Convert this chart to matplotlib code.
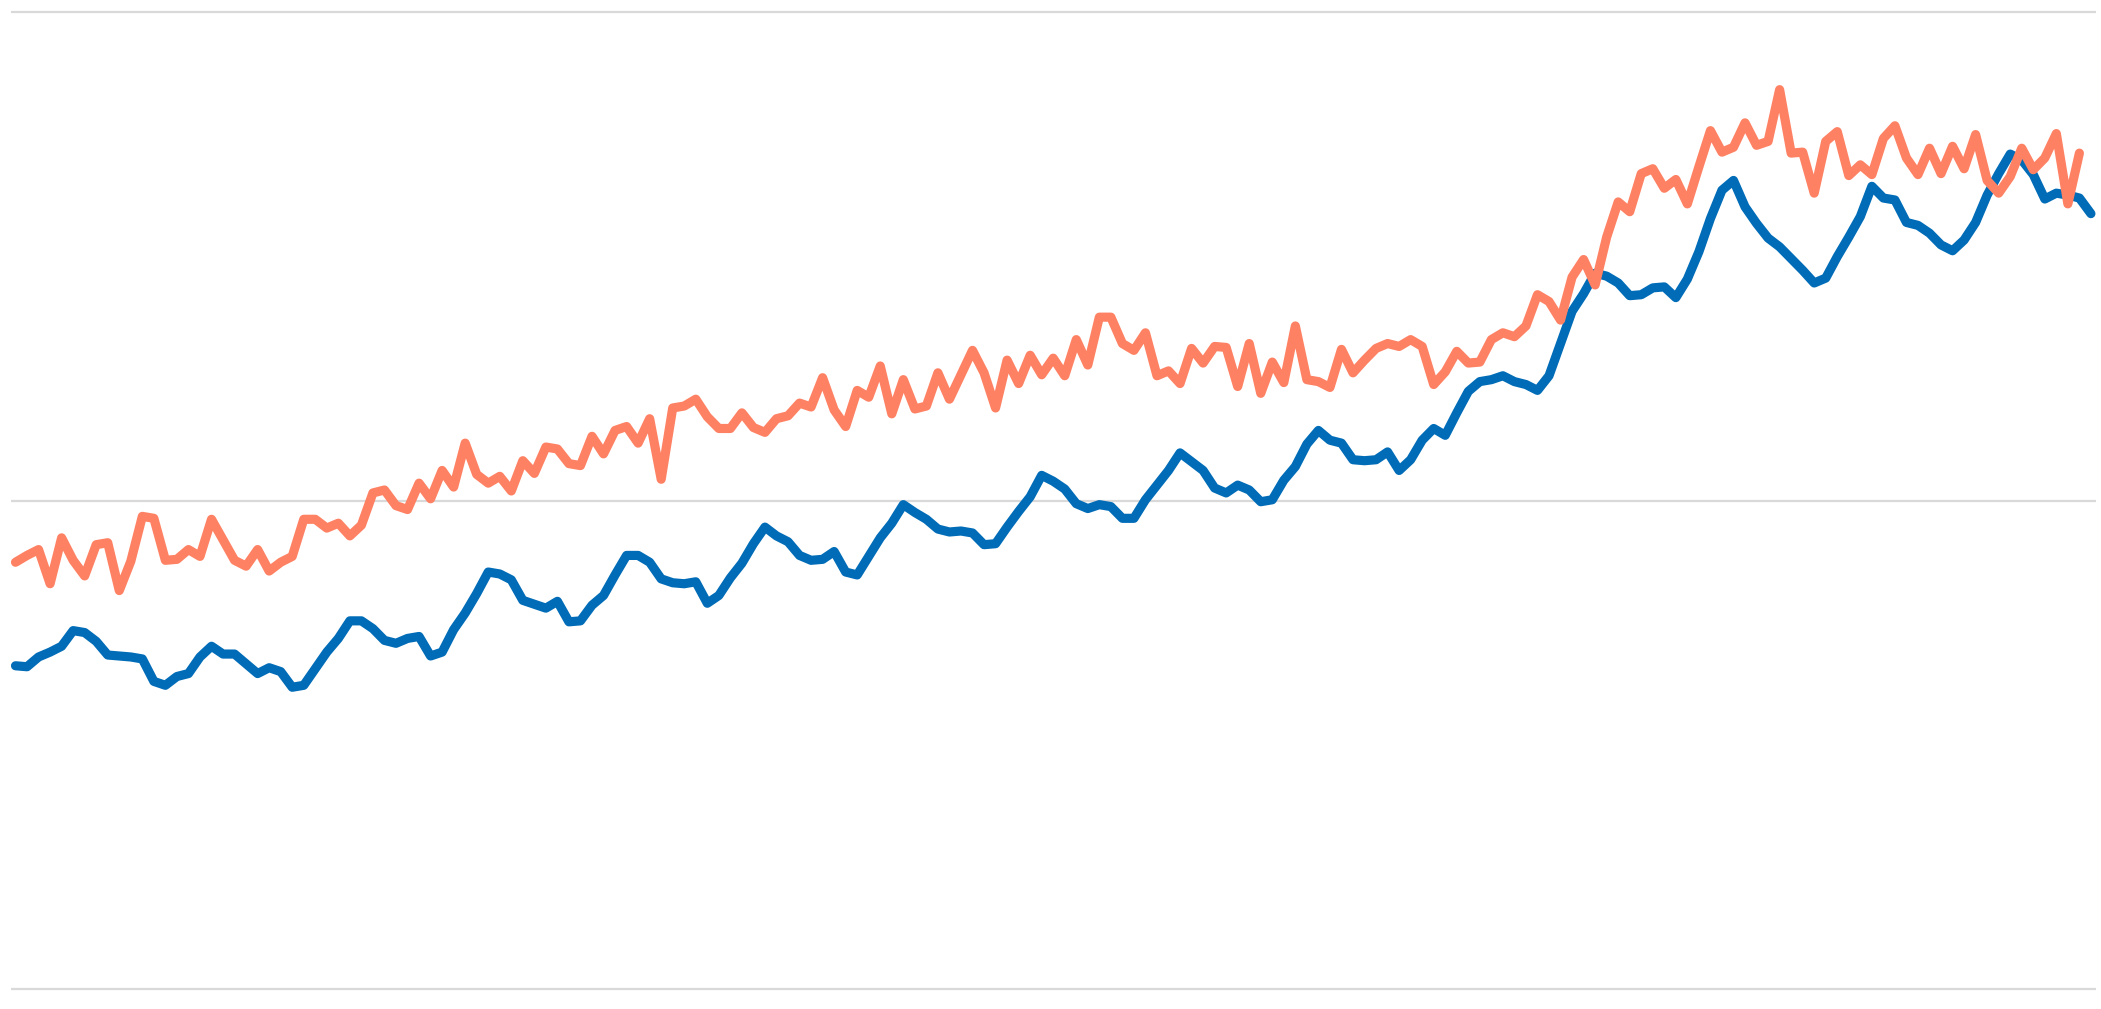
import numpy as np
import matplotlib.pyplot as plt

# values (bottom grid = 0, middle = 50, top = 100)
blue_values = [
    33.1, 33.0, 34.0, 34.5, 35.1, 36.7, 36.5, 35.6, 34.2, 34.1, 34.0, 33.8, 31.5, 31.1, 32.0,
    32.3, 34.0, 35.1, 34.3, 34.3, 33.3, 32.3, 32.9, 32.5, 30.9, 31.1, 32.8, 34.5, 35.9, 37.7,
    37.7, 36.9, 35.7, 35.4, 35.9, 36.1, 34.1, 34.5, 36.8, 38.5, 40.5, 42.7, 42.5, 41.9, 39.8,
    39.4, 39.0, 39.7, 37.6, 37.7, 39.3, 40.3, 42.4, 44.4, 44.4, 43.7, 42.0, 41.6, 41.5, 41.7,
    39.5,
    40.3, 42.1, 43.6, 45.6, 47.3, 46.4, 45.8, 44.4, 43.9, 44.0, 44.8, 42.7, 42.4, 44.3, 46.2,
    47.7, 49.6, 48.8, 48.1, 47.1, 46.8, 46.9, 46.7, 45.5, 45.6, 47.3, 48.9, 50.4, 52.6, 52.0,
    51.2, 49.7, 49.2, 49.6, 49.4, 48.2, 48.2, 50.1, 51.6, 53.1, 54.9, 54.0, 53.1, 51.3, 50.8,
    51.6, 51.1, 49.9, 50.1, 52.1, 53.5, 55.8, 57.2, 56.2, 55.9, 54.2, 54.1, 54.2, 55.0, 53.1,
    54.2, 56.2, 57.4, 56.7, 59.0, 61.2, 62.2, 62.4, 62.8, 62.2, 61.9, 61.3, 62.8, 66.1, 69.4,
    71.2, 73.3, 73.0, 72.3, 71.0, 71.1, 71.8, 71.9, 70.8, 72.7, 75.5, 78.9, 81.8, 82.8, 80.1,
    78.4, 76.9, 76.0, 74.8, 73.6, 72.3, 72.8, 75.0, 77.0, 79.1, 82.2, 81.0, 80.8, 78.5, 78.2,
    77.4, 76.2, 75.6, 76.7, 78.5, 81.3, 83.5, 85.5, 84.9, 83.4, 80.9, 81.5, 81.3, 81.0, 79.4,
]

orange_values = [
    43.7, 44.4, 45.0, 41.5, 46.2, 43.9, 42.3, 45.5, 45.7, 40.8, 43.8, 48.4, 48.2, 43.9, 44.0,
    45.0, 44.3, 48.1, 46.0, 43.9, 43.3, 45.0, 42.8, 43.7, 44.3, 48.1, 48.1, 47.2, 47.7, 46.4,
    47.5, 50.8, 51.1, 49.5, 49.1, 51.8, 50.2, 53.1, 51.4, 55.9, 52.7, 51.8, 52.5, 51.0, 54.1,
    52.8, 55.5, 55.3, 53.8, 53.6, 56.6, 54.8, 57.2, 57.6, 55.9, 58.4, 52.2, 59.5, 59.7, 60.4,
    58.6,
    57.4, 57.4, 59.0, 57.5, 57.0, 58.4, 58.7, 60.0, 59.6, 62.6, 59.3, 57.6, 61.3, 60.6, 63.8,
    58.9, 62.4, 59.4, 59.7, 63.1, 60.4, 62.9, 65.4, 63.1, 59.5, 64.4, 62.0, 64.9, 62.9, 64.6,
    62.8, 66.5, 63.9, 68.8, 68.8, 66.1, 65.4, 67.2, 62.8, 63.3, 62.0, 65.6, 64.1, 65.8, 65.7,
    61.7, 66.1, 61.0, 64.2, 62.1, 67.9, 62.4, 62.2, 61.6, 65.5, 63.1, 64.4, 65.6, 66.1, 65.8,
    66.5, 65.8, 61.9, 63.2, 65.3, 64.1, 64.2, 66.5, 67.2, 66.8, 67.9, 71.1, 70.4, 68.5, 72.9,
    74.7, 72.1, 77.0, 80.6, 79.6, 83.5, 84.0, 82.0, 82.9, 80.4, 84.2, 87.9, 85.7, 86.2, 88.7,
    86.4, 86.8, 92.1, 85.6, 85.7, 81.5, 86.8, 87.8, 83.3, 84.4, 83.4, 87.1, 88.4, 85.1, 83.4,
    86.1, 83.5, 86.3, 84.0, 87.5, 82.8, 81.5, 83.2, 86.1, 83.9, 85.1, 87.6, 80.4, 85.6,
]

grid_ticks = [0, 50, 100]

blue_color = '#006cb7'
orange_color = '#ff8163'


def main():
    fig = plt.figure(figsize=(21.01, 10.09), dpi=100)
    ax = fig.add_axes([11 / 2101, 0, 2085 / 2101, 1])

    x_blue = np.arange(len(blue_values))
    x_orange = np.arange(len(orange_values))

    ax.plot(x_blue, blue_values, color=blue_color, linewidth=6.6,
            solid_capstyle='round', solid_joinstyle='round', zorder=3)
    ax.plot(x_orange, orange_values, color=orange_color, linewidth=6.6,
            solid_capstyle='round', solid_joinstyle='round', zorder=4)

    ax.set_xlim(-0.39, 180.44)
    ax.set_ylim(-2.05, 101.28)
    ax.set_yticks(grid_ticks)
    ax.yaxis.grid(True, color='#d9d9d9', linewidth=1.6)
    ax.set_axisbelow(True)
    ax.tick_params(left=False, bottom=False, labelleft=False, labelbottom=False)
    ax.set_xticks([])
    for s in ax.spines.values():
        s.set_visible(False)

    fig.savefig('out.png', dpi=100, facecolor='white')


if __name__ == '__main__':
    main()
